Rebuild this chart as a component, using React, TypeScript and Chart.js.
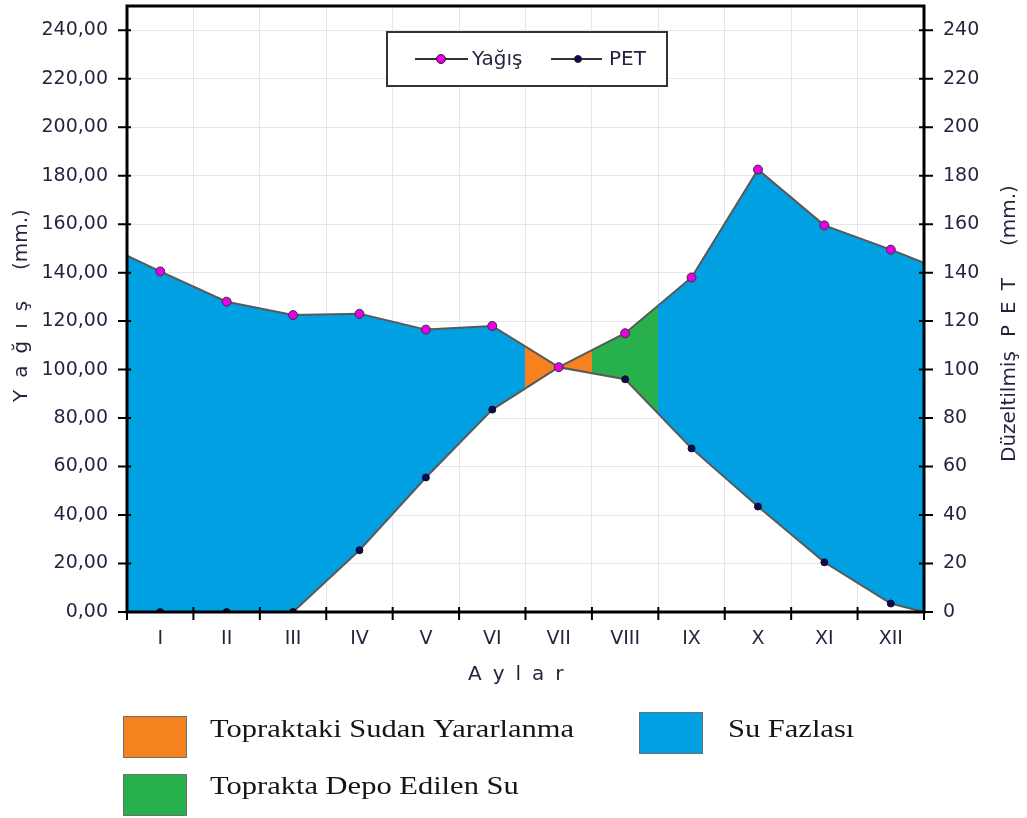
import { useEffect, useRef } from 'react';
import { Chart, registerables } from 'chart.js';

Chart.register(...registerables);

// Monthly water balance
const months = ['I', 'II', 'III', 'IV', 'V', 'VI', 'VII', 'VIII', 'IX', 'X', 'XI', 'XII'];
const yagis = [140.5, 128, 122.5, 123, 116.5, 118, 101, 115, 138, 182.5, 159.5, 149.5];
const pet = [0, 0, 0, 25.5, 55.5, 83.5, 101, 96, 67.5, 43.5, 20.5, 3.5];
// where each curve meets the left / right frame of the plot
const yagisEdges = [147, 144];
const petEdges = [0, 0];
// water-balance zone of every month: s = surplus, u = soil water use, d = soil storage
const monthZones = ['s', 's', 's', 's', 's', 's', 'u', 'd', 's', 's', 's', 's'];
const leftTicks = [0, 20, 40, 60, 80, 100, 120, 140, 160, 180, 200, 220, 240];
const rightTicks = [0, 20, 40, 60, 80, 100, 120, 140, 160, 180, 200, 220, 240];
const axisMax = 250;

const zoneColors: Record<string, string> = { s: '#00A0E3', u: '#F5821F', d: '#27B04B' };
const zoneNames: Record<string, string> = {
  u: 'Topraktaki Sudan Yararlanma',
  d: 'Toprakta Depo Edilen Su',
  s: 'Su Fazlası',
};

const SANS = '"DejaVu Sans", sans-serif';
const SERIF = '"Liberation Serif", "Times New Roman", serif';
const TEXT = '#2a1f3d';

const toSeries = (vals: number[], edges: number[]) => [
  { x: 0, y: edges[0] },
  ...vals.map((v, i) => ({ x: i + 0.5, y: v })),
  { x: months.length, y: edges[1] },
];

const markerRadius = (r: number) => [0, ...months.map(() => r), 0];

function drawSpaced(ctx: CanvasRenderingContext2D, text: string, x: number, y: number, spacing: number) {
  let cx = x;
  for (const ch of text) {
    ctx.fillText(ch, cx, y);
    cx += ctx.measureText(ch).width + spacing;
  }
  return cx;
}

// horizontal gradient with hard stops so every month column gets its zone colour
const zoneFill = (c: any) => {
  const chart = c.chart;
  const area = chart.chartArea;
  const xs = chart.scales?.xl;
  if (!area || !xs) return zoneColors.s;
  const w = area.right - area.left;
  const g = chart.ctx.createLinearGradient(area.left, 0, area.right, 0);
  const clamp = (v: number) => Math.min(1, Math.max(0, v));
  monthZones.forEach((z, i) => {
    const a = clamp((xs.getPixelForValue(i) - area.left) / w);
    const b = clamp((xs.getPixelForValue(i + 1) - area.left) / w);
    g.addColorStop(a, zoneColors[z]);
    g.addColorStop(b, zoneColors[z]);
  });
  return g;
};

const framePlugin = {
  id: 'frame',
  afterDatasetsDraw(chart: any) {
    const { ctx, chartArea: a, scales } = chart;
    ctx.save();
    ctx.strokeStyle = '#000';
    ctx.lineWidth = 3;
    ctx.strokeRect(a.left, a.top, a.right - a.left, a.bottom - a.top);
    ctx.lineWidth = 2;
    ctx.beginPath();
    for (const v of leftTicks) {
      const y = scales.y.getPixelForValue(v);
      ctx.moveTo(a.left - 9, y);
      ctx.lineTo(a.left + 4, y);
    }
    for (const v of rightTicks) {
      const y = scales.y2.getPixelForValue(v);
      ctx.moveTo(a.right - 5, y);
      ctx.lineTo(a.right + 9, y);
    }
    for (let i = 0; i <= months.length; i++) {
      const x = scales.xl.getPixelForValue(i);
      ctx.moveTo(x, a.bottom - 5);
      ctx.lineTo(x, a.bottom + 8);
    }
    ctx.stroke();
    ctx.restore();
  },
};

const labelsPlugin = {
  id: 'labels',
  afterDraw(chart: any) {
    const { ctx } = chart;
    ctx.save();
    ctx.fillStyle = TEXT;
    ctx.font = `20px ${SANS}`;
    ctx.textBaseline = 'middle';
    ctx.textAlign = 'left';

    // left axis title
    ctx.save();
    ctx.translate(22, 402);
    ctx.rotate(-Math.PI / 2);
    drawSpaced(ctx, 'Yağış', 0, 0, 12);
    ctx.fillText('(mm.)', 132, 0);
    ctx.restore();

    // right axis title
    ctx.save();
    ctx.translate(1010, 462);
    ctx.rotate(-Math.PI / 2);
    ctx.fillText('Düzeltilmiş', 0, 0);
    drawSpaced(ctx, 'PET', 125, 0, 11);
    ctx.fillText('(mm.)', 216, 0);
    ctx.restore();

    // bottom axis title
    drawSpaced(ctx, 'Aylar', 468, 675, 11);

    // series legend
    const box = { x: 387, y: 32, w: 280, h: 54 };
    ctx.fillStyle = '#fff';
    ctx.fillRect(box.x, box.y, box.w, box.h);
    ctx.strokeStyle = '#333';
    ctx.lineWidth = 2;
    ctx.strokeRect(box.x, box.y, box.w, box.h);
    const items = [
      { label: 'Yağış', x0: 415, x1: 468, mx: 441, tx: 472, color: '#E600E6', r: 4.5 },
      { label: 'PET', x0: 551, x1: 602, mx: 578, tx: 609, color: '#0A0A5C', r: 3.5 },
    ];
    const ly = 59;
    for (const it of items) {
      ctx.strokeStyle = '#333';
      ctx.lineWidth = 2;
      ctx.beginPath();
      ctx.moveTo(it.x0, ly);
      ctx.lineTo(it.x1, ly);
      ctx.stroke();
      ctx.beginPath();
      ctx.arc(it.mx, ly, it.r, 0, Math.PI * 2);
      ctx.fillStyle = it.color;
      ctx.fill();
      ctx.lineWidth = 1;
      ctx.strokeStyle = '#222';
      ctx.stroke();
      ctx.fillStyle = TEXT;
      ctx.fillText(it.label, it.tx, ly + 1);
    }

    // zone legend
    const zoneItems = [
      { z: 'u', bx: 123, by: 716, tx: 210, ty: 737 },
      { z: 'd', bx: 123, by: 774, tx: 210, ty: 794 },
      { z: 's', bx: 639, by: 712, tx: 728, ty: 737 },
    ];
    ctx.font = `25px ${SERIF}`;
    ctx.textBaseline = 'alphabetic';
    for (const it of zoneItems) {
      ctx.fillStyle = zoneColors[it.z];
      ctx.fillRect(it.bx, it.by, 63, 41);
      ctx.strokeStyle = '#6f6f6f';
      ctx.lineWidth = 1;
      ctx.strokeRect(it.bx + 0.5, it.by + 0.5, 63, 41);
      ctx.fillStyle = '#151515';
      ctx.save();
      ctx.translate(it.tx, it.ty);
      ctx.scale(1.22, 1);
      ctx.fillText(zoneNames[it.z], 0, 0);
      ctx.restore();
    }
    ctx.restore();
  },
};

export default function App() {
  const ref = useRef<HTMLCanvasElement | null>(null);

  useEffect(() => {
    if (!ref.current) return;
    const setTicks = (vals: number[]) => (scale: any) => {
      scale.ticks = vals.map((value) => ({ value }));
    };
    const noPadding = (s: any) => {
      s.paddingTop = 0;
      s.paddingBottom = 0;
      s.paddingLeft = 0;
      s.paddingRight = 0;
    };
    const chart = new Chart(ref.current, {
      type: 'line',
      data: {
        labels: months,
        datasets: [
          {
            label: 'Yağış',
            data: toSeries(yagis, yagisEdges),
            xAxisID: 'xl',
            yAxisID: 'y',
            borderColor: '#595959',
            borderWidth: 2,
            backgroundColor: zoneFill,
            fill: '+1',
            tension: 0,
            pointRadius: markerRadius(4.5),
            pointBackgroundColor: '#E600E6',
            pointBorderColor: '#333',
            pointBorderWidth: 1,
          },
          {
            label: 'PET',
            data: toSeries(pet, petEdges),
            xAxisID: 'xl',
            yAxisID: 'y',
            borderColor: '#595959',
            borderWidth: 2,
            backgroundColor: '#0A0A5C',
            fill: false,
            tension: 0,
            pointRadius: markerRadius(3.5),
            pointBackgroundColor: '#0A0A5C',
            pointBorderColor: '#111',
            pointBorderWidth: 1,
          },
        ],
      },
      options: {
        responsive: false,
        animation: false,
        devicePixelRatio: 1,
        layout: { padding: { top: 6, left: 0, right: 0, bottom: 0 } },
        plugins: {
          legend: { display: false },
          tooltip: { enabled: false },
          filler: { drawTime: 'beforeDatasetsDraw' },
        },
        scales: {
          x: {
            type: 'category',
            position: 'bottom',
            offset: true,
            grid: { offset: true, color: '#e6e6e6', lineWidth: 1, drawTicks: false },
            border: { display: false },
            ticks: { color: TEXT, font: { family: SANS, size: 19 }, padding: 16 },
            afterFit: (s: any) => { noPadding(s); s.height = 206; },
          },
          xl: {
            type: 'linear',
            display: false,
            min: 0,
            max: months.length,
          },
          y: {
            type: 'linear',
            position: 'left',
            min: 0,
            max: axisMax,
            afterBuildTicks: setTicks(leftTicks),
            grid: { color: '#e6e6e6', lineWidth: 1, drawTicks: false },
            border: { display: false },
            ticks: {
              color: TEXT,
              font: { family: SANS, size: 19 },
              padding: 19,
              callback: (v: any) => Number(v).toFixed(2).replace('.', ','),
            },
            afterFit: (s: any) => { noPadding(s); s.width = 127; },
          },
          y2: {
            type: 'linear',
            position: 'right',
            min: 0,
            max: axisMax,
            afterBuildTicks: setTicks(rightTicks),
            grid: { display: false, drawTicks: false },
            border: { display: false },
            ticks: {
              color: TEXT,
              font: { family: SANS, size: 19 },
              padding: 19,
              callback: (v: any) => String(v),
            },
            afterFit: (s: any) => { noPadding(s); s.width = 103; },
          },
        },
      },
      plugins: [framePlugin, labelsPlugin],
    } as any);
    return () => chart.destroy();
  }, []);

  return (
    <div style={{ position: 'absolute', left: 0, top: 0, width: 1027, height: 818, background: '#fff' }}>
      <canvas ref={ref} width={1027} height={818} />
    </div>
  );
}
